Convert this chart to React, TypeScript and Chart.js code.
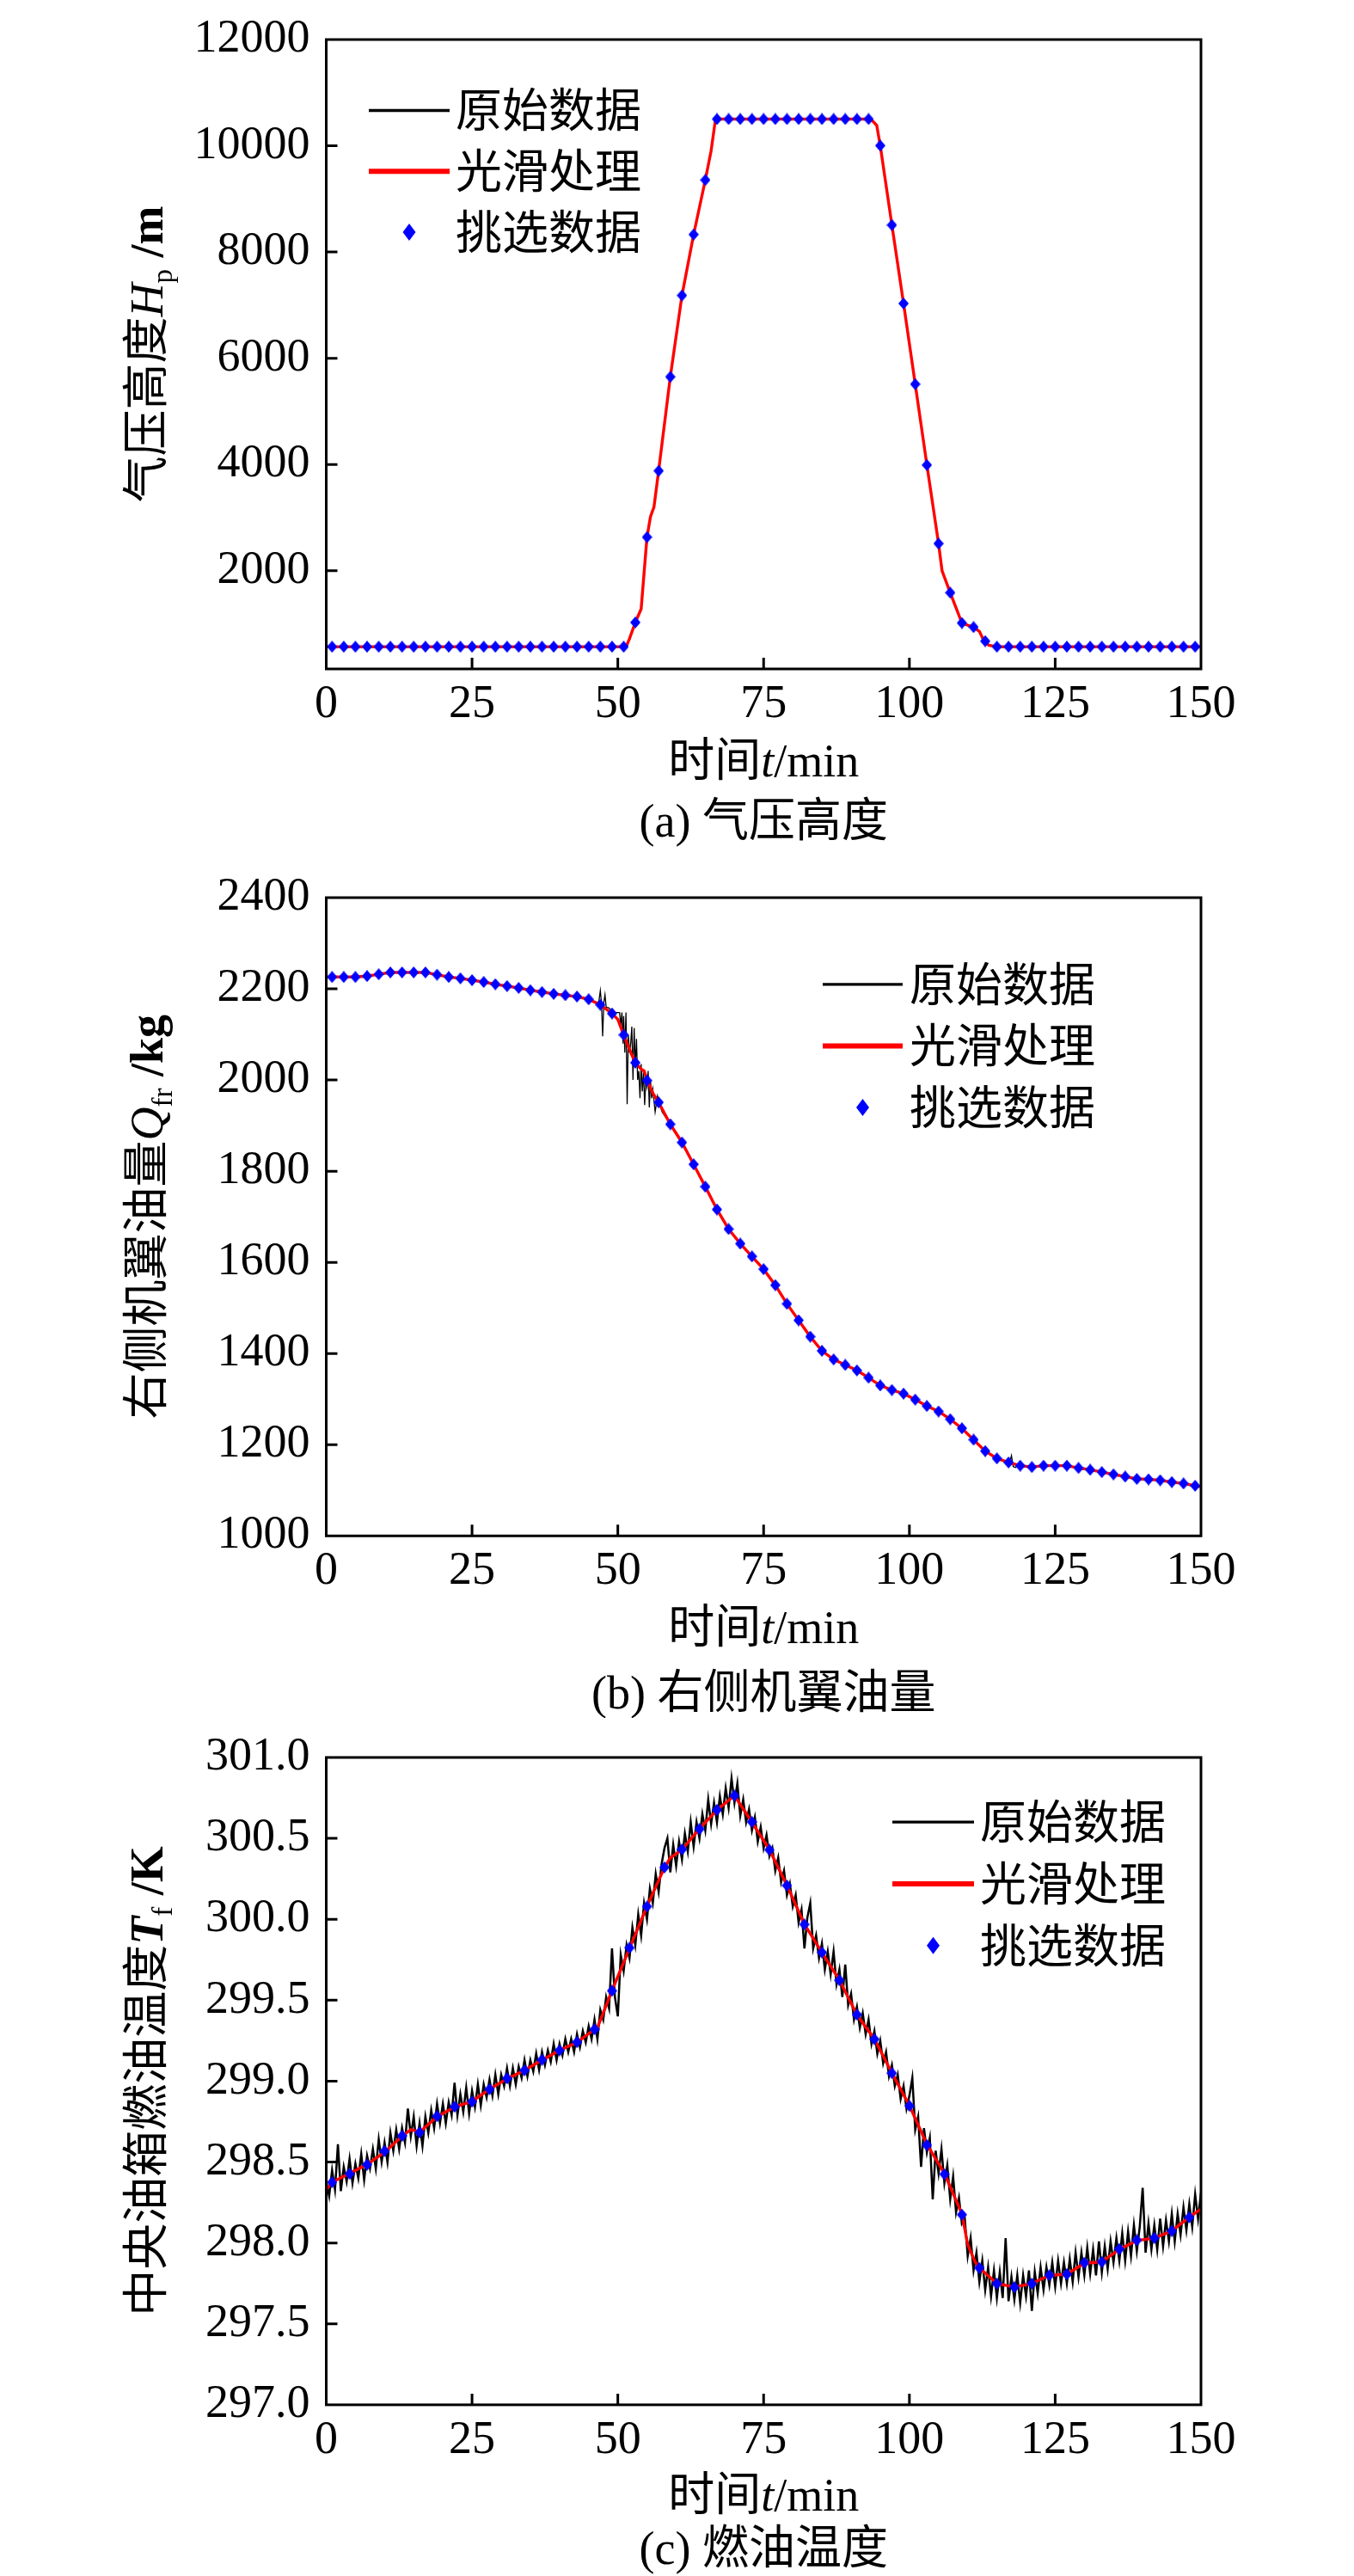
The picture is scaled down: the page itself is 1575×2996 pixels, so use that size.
import React, { useEffect, useRef } from "react";
import { Chart, registerables } from "chart.js";

Chart.register(...registerables);

const SERIF = '"Liberation Serif", "Times New Roman", "Noto Sans CJK SC", serif';
const FS = 54;

// ---------- shared x axis ----------
const xTicks = [0, 25, 50, 75, 100, 125, 150];

// ---------- (a) 气压高度 ----------
const hTicks = [2000, 4000, 6000, 8000, 10000, 12000];
const hSmoothT = [0, 51, 51.5, 52, 53, 54, 55, 55.6, 56.2, 57, 59, 61, 63, 65, 66, 66.7, 67, 93, 93.5, 94.4, 95, 97, 99, 101, 103, 105, 105.6, 107, 109, 110, 111, 112, 112.6, 113.6, 115, 150];
const hSmoothV = [568, 568, 590, 720, 1026, 1279, 2631, 3015, 3200, 3880, 5650, 7182, 8330, 9356, 9908, 10460, 10503, 10503, 10490, 10385, 10003, 8508, 7031, 5512, 3989, 2510, 2000, 1585, 1016, 975, 938, 858, 720, 595, 568, 568];
const hRawT = hSmoothT;
const hRawV = hSmoothV;
const hPickT = [1, 3, 5, 7, 9, 11, 13, 15, 17, 19, 21, 23, 25, 27, 29, 31, 33, 35, 37, 39, 41, 43, 45, 47, 49, 51, 53, 55, 57, 59, 61, 63, 65, 67, 69, 71, 73, 75, 77, 79, 81, 83, 85, 87, 89, 91, 93, 95, 97, 99, 101, 103, 105, 107, 109, 111, 113, 115, 117, 119, 121, 123, 125, 127, 129, 131, 133, 135, 137, 139, 141, 143, 145, 147, 149];
const hPickV = [568, 568, 568, 568, 568, 568, 568, 568, 568, 568, 568, 568, 568, 568, 568, 568, 568, 568, 568, 568, 568, 568, 568, 568, 568, 568, 1026, 2631, 3880, 5650, 7182, 8330, 9356, 10503, 10503, 10503, 10503, 10503, 10503, 10503, 10503, 10503, 10503, 10503, 10503, 10503, 10503, 10003, 8508, 7031, 5512, 3989, 2510, 1585, 1016, 938, 674, 568, 568, 568, 568, 568, 568, 568, 568, 568, 568, 568, 568, 568, 568, 568, 568, 568, 568];

// ---------- (b) 右侧机翼油量 ----------
const qTicks = [1000, 1200, 1400, 1600, 1800, 2000, 2200, 2400];
const qSmoothT = [0, 1, 3, 5, 7, 9, 11, 13, 15, 17, 19, 21, 23, 25, 27, 29, 31, 33, 35, 37, 39, 41, 43, 45, 47, 49, 50, 51, 52.2, 53, 54, 54.5, 55, 56, 57, 59, 61, 63, 65, 67, 69, 71, 73, 75, 77, 79, 81, 83, 85, 87, 89, 91, 93, 95, 97, 99, 101, 103, 105, 107, 109, 111, 113, 115, 117, 119, 121, 123, 125, 127, 129, 131, 133, 135, 137, 139, 141, 143, 145, 147, 149, 150];
const qSmoothV = [2226, 2226, 2226, 2226, 2228, 2232, 2236, 2236, 2236, 2236, 2231, 2226, 2223, 2219, 2215, 2210, 2206, 2202, 2197, 2193, 2189, 2186, 2183, 2177, 2165, 2146, 2133, 2099, 2061, 2038, 2024, 2020, 2002, 1971, 1951, 1903, 1863, 1815, 1766, 1716, 1673, 1641, 1613, 1585, 1550, 1509, 1473, 1437, 1406, 1387, 1375, 1363, 1347, 1330, 1320, 1312, 1299, 1285, 1273, 1256, 1236, 1211, 1186, 1170, 1161, 1154, 1151, 1154, 1154, 1154, 1149, 1145, 1140, 1135, 1130, 1125, 1124, 1122, 1118, 1115, 1110, 1108];
const qNoiseT = [46.5, 46.75, 47.0, 47.2, 47.4, 47.6, 47.8, 48.0, 48.5, 49.0, 49.5, 50.0, 50.3, 50.5, 50.7, 50.9, 51.0, 51.2, 51.4, 51.6, 51.8, 52.0, 52.2, 52.4, 52.6, 52.8, 53.0, 53.2, 53.4, 53.6, 53.8, 54.0, 54.2, 54.4, 54.6, 54.8, 55.0, 55.2, 55.4, 55.6, 55.8, 56.0, 56.4, 56.8, 57.2, 57.6, 58.0];
const qNoiseV = [2170, 2172, 2196, 2168, 2096, 2170, 2187, 2160, 2158, 2150, 2148, 2148, 2148, 2120, 2148, 2080, 2140, 2060, 2148, 1947, 2100, 2060, 2080, 2117, 2000, 2114, 2030, 2090, 2000, 2020, 1960, 2035, 1975, 2020, 1945, 2000, 1985, 2020, 1940, 2000, 1960, 1980, 1930, 1965, 1945, 1930, 1922];
const qNoise2T = [117.2, 117.5, 117.8, 118.2, 118.6];
const qNoise2V = [1161, 1176, 1152, 1150, 1156];
const qPickT = hPickT;
const qPickV = [2226, 2226, 2226, 2228, 2232, 2236, 2236, 2236, 2236, 2231, 2226, 2223, 2219, 2215, 2210, 2206, 2202, 2197, 2193, 2189, 2186, 2183, 2177, 2165, 2146, 2099, 2038, 1999, 1951, 1903, 1863, 1815, 1766, 1716, 1673, 1641, 1613, 1585, 1550, 1509, 1473, 1437, 1406, 1387, 1375, 1363, 1347, 1330, 1320, 1312, 1299, 1285, 1273, 1256, 1236, 1211, 1186, 1170, 1161, 1154, 1151, 1154, 1154, 1154, 1149, 1145, 1140, 1135, 1130, 1125, 1124, 1122, 1118, 1115, 1110];

// ---------- (c) 燃油温度 ----------
const tTicks = [297.0, 297.5, 298.0, 298.5, 299.0, 299.5, 300.0, 300.5, 301.0];
const tSmoothT = [0, 1, 4, 7, 10, 13, 14.5, 16, 19, 22, 25, 28, 31, 34, 37, 40, 43, 46, 46.5, 49, 52, 55, 58, 59, 61, 64, 67, 70, 73, 76, 79, 82, 85, 88, 91, 94, 97, 100, 103, 106, 109, 110, 111.3, 112, 115, 118, 121, 124, 127, 130, 133, 136, 139, 142, 145, 148, 150];
const tSmoothV = [298.33, 298.375, 298.43, 298.485, 298.56, 298.66, 298.70, 298.685, 298.78, 298.84, 298.875, 298.95, 299.015, 299.067, 299.13, 299.19, 299.24, 299.32, 299.33, 299.56, 299.82, 300.08, 300.32, 300.38, 300.43, 300.56, 300.675, 300.765, 300.60, 300.43, 300.21, 299.97, 299.795, 299.625, 299.41, 299.26, 299.05, 298.85, 298.61, 298.43, 298.18, 297.99, 297.88, 297.846, 297.75, 297.727, 297.75, 297.80, 297.807, 297.875, 297.883, 297.96, 298.015, 298.03, 298.075, 298.16, 298.21];
const tPickT = [1, 4, 7, 10, 13, 16, 19, 22, 25, 28, 31, 34, 37, 40, 43, 46, 49, 52, 55, 58, 61, 64, 67, 70, 73, 76, 79, 82, 85, 88, 91, 94, 97, 100, 103, 106, 109, 112, 115, 118, 121, 124, 127, 130, 133, 136, 139, 142, 145, 148];
const tPickV = [298.375, 298.427, 298.484, 298.568, 298.662, 298.683, 298.783, 298.842, 298.873, 298.95, 299.017, 299.067, 299.132, 299.19, 299.241, 299.32, 299.558, 299.824, 300.079, 300.321, 300.432, 300.558, 300.676, 300.764, 300.602, 300.429, 300.209, 299.968, 299.795, 299.623, 299.411, 299.259, 299.049, 298.847, 298.605, 298.425, 298.175, 297.846, 297.749, 297.727, 297.749, 297.801, 297.807, 297.878, 297.883, 297.963, 298.017, 298.031, 298.074, 298.158];
const tRawStep = 0.5; // raw samples every 0.5 min from t = 0
const tRawV = [
  298.38, 298.29, 298.45, 298.33, 298.61, 298.32, 298.47, 298.38, 298.52, 298.37,
  298.49, 298.40, 298.55, 298.39, 298.54, 298.46, 298.58, 298.46, 298.64, 298.50,
  298.62, 298.50, 298.68, 298.57, 298.70, 298.58, 298.71, 298.62, 298.83, 298.66,
  298.78, 298.60, 298.74, 298.60, 298.78, 298.68, 298.82, 298.71, 298.86, 298.74,
  298.86, 298.74, 298.87, 298.79, 298.99, 298.79, 298.92, 298.81, 298.96, 298.80,
  298.94, 298.84, 298.98, 298.85, 298.98, 298.90, 299.01, 298.91, 299.04, 298.92,
  299.04, 298.97, 299.08, 298.97, 299.08, 298.98, 299.09, 299.02, 299.13, 299.03,
  299.13, 299.06, 299.17, 299.07, 299.18, 299.10, 299.19, 299.12, 299.23, 299.13,
  299.23, 299.16, 299.26, 299.18, 299.26, 299.18, 299.29, 299.21, 299.31, 299.24,
  299.34, 299.26, 299.38, 299.26, 299.44, 299.38, 299.52, 299.45, 299.82, 299.52,
  299.40, 299.78, 299.68, 299.84, 299.76, 299.95, 299.84, 300.03, 299.90, 300.10,
  300.00, 300.19, 300.10, 300.28, 300.17, 300.34, 300.44, 300.50, 300.29, 300.46,
  300.33, 300.48, 300.37, 300.53, 300.42, 300.60, 300.45, 300.60, 300.50, 300.65,
  300.55, 300.74, 300.59, 300.72, 300.60, 300.76, 300.65, 300.81, 300.69, 300.87,
  300.72, 300.84, 300.64, 300.74, 300.60, 300.68, 300.55, 300.63, 300.48, 300.57,
  300.44, 300.52, 300.39, 300.44, 300.30, 300.38, 300.23, 300.30, 300.15, 300.22,
  300.08, 300.15, 299.98, 300.06, 299.82, 300.01, 300.10, 299.82, 299.90, 299.76,
  299.85, 299.69, 299.80, 299.66, 299.80, 299.60, 299.69, 299.52, 299.72, 299.47,
  299.54, 299.38, 299.46, 299.33, 299.42, 299.29, 299.38, 299.23, 299.31, 299.17,
  299.25, 299.11, 299.18, 299.03, 299.10, 298.97, 299.04, 298.89, 298.97, 298.83,
  298.91, 299.02, 298.70, 298.78, 298.47, 298.71, 298.56, 298.65, 298.27, 298.57,
  298.43, 298.58, 298.37, 298.48, 298.27, 298.41, 298.19, 298.28, 298.12, 298.15,
  297.92, 298.03, 297.83, 297.94, 297.76, 297.89, 297.71, 297.85, 297.67, 297.83,
  297.66, 297.82, 297.66, 298.03, 297.64, 297.79, 297.65, 297.80, 297.63, 297.80,
  297.67, 297.83, 297.58, 297.82, 297.69, 297.85, 297.71, 297.85, 297.74, 297.88,
  297.73, 297.89, 297.75, 297.88, 297.75, 297.90, 297.76, 297.94, 297.79, 297.94,
  297.80, 297.97, 297.81, 297.96, 297.80, 298.01, 297.82, 297.98, 297.84, 298.01,
  297.88, 298.03, 297.89, 298.06, 297.89, 298.07, 297.92, 298.11, 297.95, 298.10,
  298.34, 297.94, 298.12, 297.96, 298.11, 297.96, 298.15, 297.98, 298.14, 298.01,
  298.18, 298.01, 298.18, 298.05, 298.22, 298.08, 298.24, 298.10, 298.30, 298.15,
  298.31,
];

// ---------- helpers ----------
type Pt = { x: number; y: number };
const pts = (t: number[], v: number[]): Pt[] => t.map((x, i) => ({ x, y: v[i] }));

type Seg = { t: string; it?: boolean; b?: boolean; sub?: boolean };

function fontOf(s: Seg, size: number) {
  const sz = s.sub ? Math.round(size * 0.62) : size;
  return `${s.it ? "italic " : ""}${s.b ? "bold " : ""}${sz}px ${SERIF}`;
}

function drawSegs(ctx: CanvasRenderingContext2D, segs: Seg[], cx: number, cy: number, size: number) {
  const ws = segs.map((s) => {
    ctx.font = fontOf(s, size);
    return ctx.measureText(s.t).width;
  });
  const total = ws.reduce((a, b) => a + b, 0);
  let x = cx - total / 2;
  ctx.textAlign = "left";
  ctx.textBaseline = "alphabetic";
  const base = cy + size * 0.36;
  segs.forEach((s, i) => {
    ctx.font = fontOf(s, size);
    ctx.fillText(s.t, x, base + (s.sub ? size * 0.2 : 0));
    x += ws[i];
  });
}

function diamond(ctx: CanvasRenderingContext2D, cx: number, cy: number, w: number, h: number) {
  ctx.beginPath();
  ctx.moveTo(cx, cy - h / 2);
  ctx.lineTo(cx + w / 2, cy);
  ctx.lineTo(cx, cy + h / 2);
  ctx.lineTo(cx - w / 2, cy);
  ctx.closePath();
  ctx.fill();
}

function makeDiamond(w: number, h: number, color: string) {
  const c = document.createElement("canvas");
  c.width = w;
  c.height = h;
  const g = c.getContext("2d")!;
  g.fillStyle = color;
  diamond(g, w / 2, h / 2, w, h);
  return c;
}

interface PanelCfg {
  height: number;
  top: number;
  bottom: number;
  yMin: number;
  yMax: number;
  yTicks: number[];
  yFmt: (v: number) => string;
  raw: Pt[];
  rawWidth: number;
  smooth: Pt[];
  pick: Pt[];
  yTitle: Seg[];
  caption: string;
  xTitleOff: number;
  capOff: number;
  legend: { x0: number; x1: number; tx: number; y0: number; dy: number };
}

const LEFT = 379.5;
const RIGHT = 1397;
const W = 1575;

const panels: PanelCfg[] = [
  {
    height: 998,
    top: 27.5,
    bottom: 778,
    yMin: 150,
    yMax: 12000,
    yTicks: hTicks,
    yFmt: (v) => String(v),
    raw: pts(hRawT, hRawV),
    rawWidth: 1.2,
    smooth: pts(hSmoothT, hSmoothV),
    pick: pts(hPickT, hPickV),
    yTitle: [{ t: "气压高度" }, { t: "H", it: true }, { t: "p", sub: true }, { t: " /m", b: true }],
    caption: "(a) 气压高度",
    xTitleOff: 106,
    capOff: 176,
    legend: { x0: 49.5, x1: 143.5, tx: 150.5, y0: 82.5, dy: 70.7 },
  },
  {
    height: 1000,
    top: 37,
    bottom: 788.3,
    yMin: 1000,
    yMax: 2400,
    yTicks: qTicks,
    yFmt: (v) => String(v),
    raw: [
      ...pts(qSmoothT, qSmoothV).filter((p) => p.x < 46.5 || p.x > 58),
      ...pts(qNoiseT, qNoiseV),
      ...pts(qNoise2T, qNoise2V),
    ].sort((a, b) => a.x - b.x),
    rawWidth: 1.3,
    smooth: pts(qSmoothT, qSmoothV),
    pick: pts(qPickT, qPickV),
    yTitle: [{ t: "右侧机翼油量" }, { t: "Q", it: true }, { t: "fr", sub: true }, { t: " /kg", b: true }],
    caption: "(b) 右侧机翼油量",
    xTitleOff: 105,
    capOff: 181,
    legend: { x0: 577.5, x1: 670.5, tx: 678.5, y0: 100.9, dy: 71.5 },
  },
  {
    height: 998,
    top: 41.7,
    bottom: 798.9,
    yMin: 297,
    yMax: 301,
    yTicks: tTicks,
    yFmt: (v) => v.toFixed(1),
    raw: tRawV.map((y, i) => ({ x: i * tRawStep, y })),
    rawWidth: 2.5,
    smooth: pts(tSmoothT, tSmoothV),
    pick: pts(tPickT, tPickV),
    yTitle: [{ t: "中央油箱燃油温度" }, { t: "T", it: true, b: true }, { t: "f", sub: true }, { t: " /K", b: true }],
    caption: "(c) 燃油温度",
    xTitleOff: 103.5,
    capOff: 166,
    legend: { x0: 658.5, x1: 753.5, tx: 760.5, y0: 75.2, dy: 71.8 },
  },
];

function decor(cfg: PanelCfg) {
  return {
    id: "decor",
    afterDatasetsDraw(chart: any) {
      const ctx: CanvasRenderingContext2D = chart.ctx;
      const a = chart.chartArea;
      const xs = chart.scales.x;
      const ys = chart.scales.y;
      ctx.save();
      ctx.strokeStyle = "#000";
      ctx.fillStyle = "#000";
      // inward tick marks
      ctx.lineWidth = 3;
      ctx.beginPath();
      xTicks.forEach((v) => {
        if (v <= xs.min || v >= xs.max) return;
        const px = xs.getPixelForValue(v);
        ctx.moveTo(px, a.bottom);
        ctx.lineTo(px, a.bottom - 13);
      });
      cfg.yTicks.forEach((v) => {
        if (v <= ys.min || v >= ys.max) return;
        const py = ys.getPixelForValue(v);
        ctx.moveTo(a.left, py);
        ctx.lineTo(a.left + 13, py);
      });
      ctx.stroke();
      // frame
      ctx.lineWidth = 3;
      ctx.strokeRect(a.left, a.top, a.right - a.left, a.bottom - a.top);

      // x title + caption
      const cx = (a.left + a.right) / 2;
      drawSegs(ctx, [{ t: "时间" }, { t: "t", it: true }, { t: "/min" }], cx, a.bottom + cfg.xTitleOff, FS);
      drawSegs(ctx, [{ t: cfg.caption }], cx, a.bottom + cfg.capOff, FS);

      // y title (rotated)
      ctx.save();
      ctx.translate(170, (a.top + a.bottom) / 2);
      ctx.rotate(-Math.PI / 2);
      drawSegs(ctx, cfg.yTitle, 0, 0, FS);
      ctx.restore();

      // legend
      const L = cfg.legend;
      const x0 = a.left + L.x0;
      const x1 = a.left + L.x1;
      const tx = a.left + L.tx;
      const rows = ["原始数据", "光滑处理", "挑选数据"];
      rows.forEach((label, i) => {
        const y = a.top + L.y0 + i * L.dy;
        if (i === 0) {
          ctx.strokeStyle = "#000";
          ctx.lineWidth = 3.3;
          ctx.beginPath();
          ctx.moveTo(x0, y);
          ctx.lineTo(x1, y);
          ctx.stroke();
        } else if (i === 1) {
          ctx.strokeStyle = "#ff0000";
          ctx.lineWidth = 6;
          ctx.beginPath();
          ctx.moveTo(x0, y);
          ctx.lineTo(x1, y);
          ctx.stroke();
        } else {
          ctx.fillStyle = "#0000ff";
          diamond(ctx, (x0 + x1) / 2, y, 15, 20);
        }
        ctx.fillStyle = "#000";
        ctx.font = `${FS}px ${SERIF}`;
        ctx.textAlign = "left";
        ctx.textBaseline = "alphabetic";
        ctx.fillText(label, tx, y + FS * 0.37);
      });
      ctx.restore();
    },
  };
}

function Panel({ cfg }: { cfg: PanelCfg }) {
  const ref = useRef<HTMLCanvasElement>(null);
  useEffect(() => {
    const canvas = ref.current!;
    const pointImg = makeDiamond(12, 14, "#0000ff");
    const tickFont = { family: SERIF, size: FS, lineHeight: 1 };
    const chart = new Chart(canvas, {
      type: "line",
      data: {
        datasets: [
          {
            label: "挑选数据",
            data: cfg.pick,
            showLine: false,
            pointStyle: pointImg as any,
            pointRadius: 7,
            borderColor: "#0000ff",
            backgroundColor: "#0000ff",
            order: 1,
          },
          {
            label: "光滑处理",
            data: cfg.smooth,
            borderColor: "#ff0000",
            borderWidth: 3.4,
            pointRadius: 0,
            tension: 0,
            order: 2,
          },
          {
            label: "原始数据",
            data: cfg.raw,
            borderColor: "#000000",
            borderWidth: cfg.rawWidth,
            pointRadius: 0,
            tension: 0,
            order: 3,
          },
        ] as any,
      },
      options: {
        animation: false,
        responsive: false,
        devicePixelRatio: 1,
        events: [],
        layout: { padding: { left: 0, right: W - RIGHT, top: cfg.top, bottom: 0 } },
        plugins: { legend: { display: false }, tooltip: { enabled: false } },
        scales: {
          x: {
            type: "linear",
            min: 0,
            max: 150,
            grid: { display: false, drawTicks: false },
            border: { display: false },
            ticks: { font: tickFont, color: "#000", padding: 15, maxRotation: 0, autoSkip: false },
            afterBuildTicks: (s: any) => {
              s.ticks = xTicks.map((v) => ({ value: v }));
            },
            afterFit: (s: any) => {
              s.height = cfg.height - cfg.bottom;
            },
          },
          y: {
            type: "linear",
            min: cfg.yMin,
            max: cfg.yMax,
            grid: { display: false, drawTicks: false },
            border: { display: false },
            ticks: {
              font: tickFont,
              color: "#000",
              padding: 19,
              autoSkip: false,
              callback: (v: any) => cfg.yFmt(Number(v)),
            },
            afterBuildTicks: (s: any) => {
              s.ticks = cfg.yTicks.map((v) => ({ value: v }));
            },
            afterFit: (s: any) => {
              s.width = LEFT;
            },
          },
        },
      } as any,
      plugins: [decor(cfg)],
    });
    return () => chart.destroy();
  }, [cfg]);
  return (
    <canvas
      ref={ref}
      width={W}
      height={cfg.height}
      style={{ display: "block", width: W, height: cfg.height }}
    />
  );
}

export default function App() {
  return (
    <div style={{ position: "absolute", left: 0, top: 0, width: W, background: "#fff" }}>
      {panels.map((p, i) => (
        <Panel key={i} cfg={p} />
      ))}
    </div>
  );
}
